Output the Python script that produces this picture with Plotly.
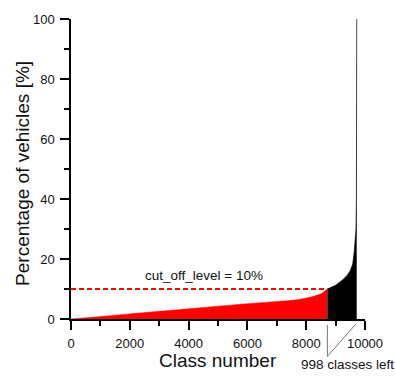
import plotly.graph_objects as go

# Data
red_class = [0, 1000, 2000, 3000, 4000, 5000, 6000, 6700, 7300, 7800, 8200, 8500, 8720]
red_pct = [0, 0.85, 1.7, 2.55, 3.4, 4.25, 5.1, 5.6, 6.05, 6.6, 7.4, 8.4, 10.0]
black_class = [8720, 8990, 9218, 9388, 9500, 9582, 9636, 9670, 9694, 9708, 9714, 9718]
black_pct = [10.0, 11.2, 12.8, 14.5, 16.1, 18.3, 22.7, 26.0, 30.0, 40.0, 60.0, 100.0]
cut_off_level = 10
classes_left = 998
x_ticks = [0, 2000, 4000, 6000, 8000, 10000]
y_ticks = [0, 20, 40, 60, 80, 100]

FONT = "Arial, Liberation Sans, sans-serif"

fig = go.Figure()
fig.add_trace(go.Scatter(x=red_class, y=red_pct, mode="lines", fill="tozeroy",
                         fillcolor="#ff0000", line=dict(color="#ff0000", width=0.5, shape="spline", smoothing=0.6),
                         hoverinfo="skip", showlegend=False))
fig.add_trace(go.Scatter(x=black_class, y=black_pct, mode="lines", fill="tozeroy",
                         fillcolor="#000000", line=dict(color="#000000", width=0.7),
                         hoverinfo="skip", showlegend=False))
fig.add_trace(go.Scatter(x=[0, red_class[-1]], y=[cut_off_level, cut_off_level], mode="lines",
                         line=dict(color="#ff0000", width=2, dash="5px,3px"),
                         hoverinfo="skip", showlegend=False))

axis_common = dict(showline=True, linecolor="black", linewidth=1.5, ticks="outside",
                   ticklen=9, tickwidth=1.5, tickcolor="black", showgrid=False,
                   zeroline=False, tickfont=dict(family=FONT, size=13, color="#111"),
                   mirror=False)

fig.update_xaxes(range=[0, 10000], tickvals=x_ticks, ticktext=[str(v) for v in x_ticks],
                 minor=dict(ticks="outside", ticklen=5, tickwidth=1.5, tickcolor="black", dtick=1000, tick0=0, showgrid=False),
                 ticklabelstandoff=3, **axis_common)
fig.update_yaxes(range=[0, 100], tickvals=y_ticks, ticktext=[str(v) for v in y_ticks],
                 minor=dict(ticks="outside", ticklen=5, tickwidth=1.5, tickcolor="black", dtick=10, tick0=0, showgrid=False),
                 ticklabelstandoff=3, **axis_common)

annotations = [
    dict(text="Class number", x=0.5, y=-0.138, xref="paper", yref="paper", showarrow=False,
         font=dict(family=FONT, size=19, color="#111"), xanchor="center", yanchor="middle"),
    dict(text="Percentage of vehicles [%]", x=-0.163, y=0.484, xref="paper", yref="paper",
         showarrow=False, textangle=-90, font=dict(family=FONT, size=19, color="#111"),
         xanchor="center", yanchor="middle"),
    dict(text=f"cut_off_level = {cut_off_level}%", x=4524, y=14.5, xref="x", yref="y",
         showarrow=False, font=dict(family=FONT, size=13.5, color="#111"),
         xanchor="center", yanchor="middle"),
    dict(text=f"{classes_left} classes left", x=0.9405, y=-0.151, xref="paper", yref="paper",
         showarrow=False, font=dict(family=FONT, size=13.5, color="#111"),
         xanchor="center", yanchor="middle"),
]

x_split = red_class[-1] / 10000
x_diag = black_class[8] / 10000
shapes = [
    dict(type="line", xref="paper", yref="paper", x0=x_split, y0=-0.02, x1=x_split, y1=-0.125,
         line=dict(color="#777", width=1)),
    dict(type="line", xref="paper", yref="paper", x0=x_diag, y0=-0.016, x1=x_split, y1=-0.125,
         line=dict(color="#777", width=1)),
]

fig.update_layout(width=395, height=376, margin=dict(l=71, r=30, t=15, b=57),
                  plot_bgcolor="white", paper_bgcolor="white",
                  annotations=annotations, shapes=shapes, showlegend=False)

fig.write_html("out.html")
